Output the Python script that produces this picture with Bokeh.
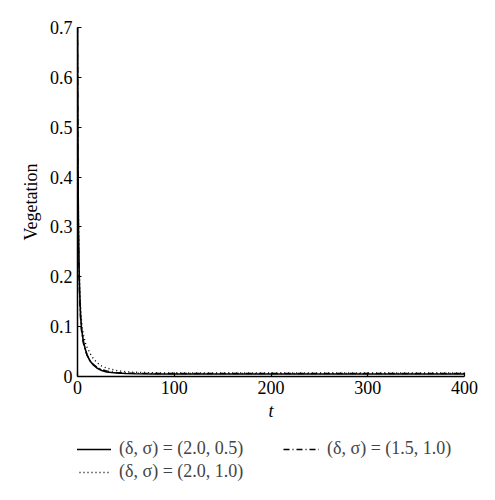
from bokeh.plotting import figure
from bokeh.layouts import column
from bokeh.models import Legend, LegendItem, FixedTicker, Range1d
from bokeh.embed import file_html
from bokeh.resources import INLINE

# time points and vegetation values
t = [0, 0.5, 1, 1.5, 2, 3, 4, 5, 6, 8, 10, 13, 16, 20, 25, 30, 40, 50, 60,
     80, 100, 150, 200, 250, 300, 350, 400]
veg_20_05 = [0.7, 0.42, 0.30, 0.23, 0.185, 0.13, 0.10, 0.085, 0.072, 0.055,
             0.043, 0.031, 0.024, 0.017, 0.012, 0.009, 0.007, 0.006, 0.0055,
             0.005, 0.005, 0.005, 0.005, 0.005, 0.005, 0.005, 0.005]
veg_20_10 = [0.7, 0.44, 0.32, 0.25, 0.20, 0.145, 0.115, 0.098, 0.085, 0.068,
             0.058, 0.046, 0.037, 0.028, 0.021, 0.017, 0.012, 0.0095, 0.0085,
             0.0075, 0.007, 0.007, 0.007, 0.007, 0.007, 0.007, 0.007]
veg_15_10 = [0.7, 0.40, 0.28, 0.21, 0.17, 0.12, 0.094, 0.079, 0.067, 0.052,
             0.042, 0.032, 0.025, 0.019, 0.014, 0.011, 0.008, 0.007, 0.0065,
             0.006, 0.006, 0.006, 0.006, 0.006, 0.006, 0.006, 0.006]

x_ticks = [0, 100, 200, 300, 400]
y_ticks = [0, 0.1, 0.2, 0.3, 0.4, 0.5, 0.6, 0.7]

labels = ["(δ, σ) = (2.0, 0.5)", "(δ, σ) = (2.0, 1.0)", "(δ, σ) = (1.5, 1.0)"]

FONT = "Liberation Serif"
STYLES = [dict(line_width=1.6),
          dict(line_width=1.4, line_dash="1 3"),
          dict(line_width=1.4, line_dash="6 3 1 3")]
series = [veg_20_05, veg_20_10, veg_15_10]

p = figure(width=479, height=426, output_backend="svg", toolbar_location=None,
           x_range=Range1d(0, 400), y_range=Range1d(0, 0.7),
           min_border_left=77, min_border_right=15, min_border_top=27,
           min_border_bottom=50)
p.outline_line_color = None
p.grid.visible = False

for ax in (p.xaxis, p.yaxis):
    ax.axis_line_width = 1.5
    ax.axis_line_color = "black"
    ax.major_tick_in = 4
    ax.major_tick_out = 0
    ax.minor_tick_line_color = None
    ax.major_tick_line_width = 1.2
    ax.major_label_text_font = FONT
    ax.major_label_text_font_size = "18px"
    ax.major_label_text_color = "black"
    ax.axis_label_text_font = FONT
    ax.axis_label_text_font_size = "18px"
    ax.axis_label_text_font_style = "normal"
    ax.axis_label_text_color = "black"

p.xaxis.ticker = FixedTicker(ticks=x_ticks)
p.yaxis.ticker = FixedTicker(ticks=y_ticks)
p.yaxis.major_label_overrides = {0: "0"}
p.xaxis.axis_label = "t"
p.xaxis.axis_label_text_font_style = "italic"
p.yaxis.axis_label = "Vegetation"
p.xaxis.axis_label_standoff = 4
p.xaxis.major_label_standoff = 4
p.yaxis.axis_label_standoff = 6

for ys, st in zip(series, STYLES):
    p.line(t, ys, line_color="black", **st)

# legend lives in its own strip under the chart (its lines sit off-range)
lg = figure(width=479, height=66, output_backend="svg", toolbar_location=None,
            x_range=Range1d(0, 400), y_range=Range1d(5, 6),
            min_border_left=0, min_border_right=0, min_border_top=0,
            min_border_bottom=0)
lg.axis.visible = False
lg.grid.visible = False
lg.outline_line_color = None
keys = [lg.line(t, ys, line_color="black", **st) for ys, st in zip(series, STYLES)]

legend = Legend(items=[LegendItem(label=lab, renderers=[k]) for lab, k in zip(labels, keys)],
                ncols=2, location=(-2, 10), border_line_color=None,
                background_fill_alpha=0, label_text_font=FONT,
                label_text_font_size="18px", glyph_width=36, label_standoff=8,
                spacing=2, padding=0, margin=0, label_width=162, label_height=20)
lg.add_layout(legend, "center")

open("out.html", "w").write(file_html(column(p, lg, spacing=0), INLINE))
